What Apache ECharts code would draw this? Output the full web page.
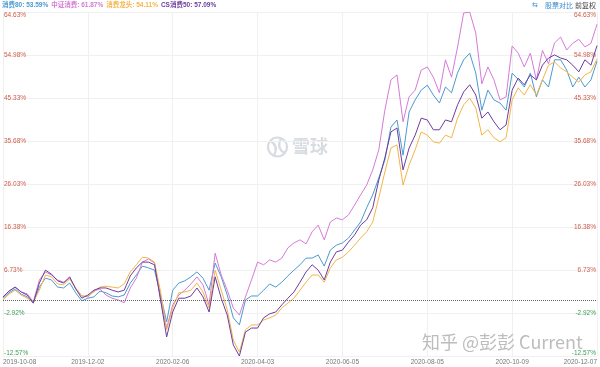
<!DOCTYPE html>
<html><head><meta charset="utf-8">
<script src="https://cdn.jsdelivr.net/npm/echarts@6/dist/echarts.min.js"></script>
<style>html,body{margin:0;padding:0;background:#fff}#c{width:600px;height:367px}</style>
</head><body><div id="c"></div>
<script>
const tickLabels = ['2019-10-08','2019-12-02','2020-02-06','2020-04-03','2020-06-05','2020-08-05','2020-10-09','2020-12-07'];
const seriesNames = ['消费80','中证消费','消费龙头','CS消费50'];
const seriesColors = ['#4a9bd1','#d57bd6','#f3b54a','#6c3d9e'];
const xf80 = [0.4, 1.6, 2.5, 1.3, 0.7, -0.7, 2.9, 4.9, 4.5, 2.9,
 2.7, 3.8, 1.6, -0.2, 0.4, 0.7, 2.0, 1.6, 0.9, 0.7,
 1.1, 3.8, 5.6, 7.6, 7.2, 6.7, 1.1, -4.9, 2.2, 3.8,
 4.3, 5.2, 6.3, 4.9, 2.2, 8.3, 5.2, 1.1, -4.0, -5.6,
 0.0, 0.9, 0.9, 2.2, 3.6, 2.9, 4.0, 5.4, 6.7, 7.9,
 9.4, 9.4, 10.1, 7.6, 11.2, 12.3, 12.8, 13.9, 15.7, 17.5,
 20.7, 23.6, 27.4, 31.4, 38.8, 40.4, 32.5, 42.2, 44.9, 47.1,
 48.2, 46.0, 44.2, 47.8, 46.5, 51.0, 53.9, 55.4, 50.9, 42.6,
 47.1, 44.9, 44.2, 42.6, 50.9, 49.5, 47.8, 50.9, 45.6, 49.4,
 47.8, 53.9, 53.9, 51.6, 47.8, 50.0, 47.8, 49.4, 53.59];
const zzxf = [0.6, 2.0, 2.9, 1.8, 1.4, -0.4, 4.5, 6.3, 5.6, 4.5,
 4.0, 4.9, 2.5, 0.9, 0.7, 2.0, 2.5, 1.1, 0.4, 0.0,
 -0.6, 2.7, 4.9, 8.5, 9.2, 8.3, 0.0, -6.3, -1.1, 1.1,
 2.2, 3.6, 5.2, 3.4, -1.1, 10.5, 5.6, 2.2, -1.8, -3.4,
 0.7, 4.5, 8.5, 7.9, 9.0, 8.5, 9.4, 11.7, 12.8, 13.5,
 12.6, 15.3, 16.8, 13.5, 17.5, 18.4, 18.0, 19.1, 21.3, 23.6,
 25.8, 29.2, 33.7, 42.6, 49.4, 50.5, 40.0, 45.6, 47.1, 51.6,
 52.3, 50.0, 46.5, 53.9, 50.0, 56.8, 64.4, 64.63, 59.9, 48.5,
 52.3, 49.4, 44.9, 45.6, 57.0, 55.4, 52.3, 55.4, 49.4, 56.0,
 53.0, 57.7, 59.0, 56.1, 57.6, 58.5, 56.8, 57.6, 61.87];
const xflt = [0.0, 1.3, 2.2, 1.1, 0.4, -0.4, 2.2, 5.6, 5.2, 3.6,
 3.4, 4.7, 2.7, 0.9, 0.9, 1.8, 2.9, 3.1, 2.9, 2.7,
 3.6, 6.3, 7.9, 9.6, 9.4, 8.5, 1.8, -6.7, -1.8, 1.6,
 1.8, 2.2, 3.8, 1.8, -1.8, 6.7, 2.2, -2.2, -9.0, -11.7,
 -6.7, -5.6, -5.6, -4.5, -4.0, -3.4, -1.8, -0.7, 0.4, 2.2,
 4.0, 5.6, 5.6, 4.0, 7.2, 9.0, 9.6, 10.8, 12.3, 13.9,
 15.3, 17.5, 22.9, 28.7, 34.1, 34.8, 25.8, 30.3, 33.7, 37.7,
 37.0, 35.5, 35.2, 37.0, 36.4, 40.8, 43.8, 45.3, 43.1, 37.0,
 38.2, 36.4, 35.5, 36.4, 44.9, 47.6, 46.0, 48.3, 46.0, 49.4,
 52.7, 53.4, 52.1, 51.2, 50.0, 48.9, 50.5, 51.2, 54.11];
const cs50 = [0.7, 2.0, 2.9, 1.8, 1.1, -0.7, 3.8, 6.7, 5.8, 4.3,
 3.8, 5.2, 2.5, 0.4, 1.1, 2.2, 2.7, 2.7, 2.2, 1.8,
 2.2, 5.4, 7.2, 8.5, 8.5, 7.9, 0.0, -8.3, -2.7, 0.4,
 0.4, 0.9, 2.7, 0.7, -2.7, 5.2, 0.4, -3.4, -10.1, -12.57,
 -7.2, -6.3, -6.3, -4.0, -3.1, -2.7, -1.1, 0.4, 1.8, 4.0,
 6.3, 7.9, 6.7, 4.5, 8.5, 10.8, 11.2, 13.0, 14.6, 16.8,
 18.0, 20.7, 26.9, 31.9, 37.7, 38.6, 29.2, 34.1, 37.0, 40.8,
 40.4, 38.2, 38.2, 40.4, 40.0, 43.8, 46.7, 48.3, 46.0, 40.8,
 42.2, 40.0, 38.2, 39.3, 47.1, 49.8, 48.3, 50.5, 49.4, 52.7,
 54.3, 55.0, 54.3, 53.9, 52.7, 51.2, 53.9, 52.7, 57.09];
const yMin = -12.57, yMax = 64.63, yStep = 9.65;
const xStep = 14;

const allSeries = [xf80, zzxf, xflt, cs50];
const FONT = "'Liberation Sans','Noto Sans CJK SC',sans-serif";
const chart = echarts.init(document.getElementById('c'), null, {renderer: 'canvas'});

const rich = {};
seriesNames.forEach((n, i) => { rich['s' + i] = {color: seriesColors[i], fontSize: 6.5, fontFamily: FONT, padding: [0, 3, 0, 0]}; });
const legendText = seriesNames.map((n, i) => '{s' + i + '|' + n + ': ' + allSeries[i][allSeries[i].length - 1].toFixed(2) + '%}').join('');

const yLabel = {
  inside: true, fontSize: 6.5, fontFamily: FONT,
  formatter: v => v.toFixed(2) + '%',
  color: v => (v < 0 ? '#3f9f55' : '#cf5c4a'),
  verticalAlignMinLabel: 'bottom', verticalAlignMaxLabel: 'top'
};

const WM = '#d8dce1';
chart.setOption({
  animation: false,
  backgroundColor: '#fff',
  title: {text: legendText, left: 2, top: 2, padding: 0, textStyle: {rich: rich, fontSize: 6.5}},
  grid: {left: 2, right: 3, top: 12, bottom: 11, containLabel: false},
  xAxis: {
    type: 'value', min: 0, max: (tickLabels.length - 1) * xStep, interval: xStep,
    axisLine: {show: false}, axisTick: {show: false},
    splitLine: {show: true, lineStyle: {color: '#f0f0f0', width: 1}},
    axisLabel: {
      fontSize: 6.5, fontFamily: FONT, color: '#777', margin: 3,
      alignMinLabel: 'left', alignMaxLabel: 'right', showMinLabel: true, showMaxLabel: true,
      formatter: v => tickLabels[Math.round(v / xStep)] || ''
    }
  },
  yAxis: [
    {type: 'value', position: 'left', min: yMin, max: yMax, interval: yStep,
     axisLine: {show: false}, axisTick: {show: false},
     splitLine: {show: true, lineStyle: {color: '#f0f0f0', width: 1}},
     axisLabel: Object.assign({margin: 1}, yLabel)},
    {type: 'value', position: 'right', min: yMin, max: yMax, interval: yStep,
     axisLine: {show: false}, axisTick: {show: false}, splitLine: {show: false},
     axisLabel: Object.assign({margin: 1}, yLabel)}
  ],
  graphic: [
    {type: 'circle', shape: {cx: 277.5, cy: 147, r: 9.5}, style: {fill: 'none', stroke: WM, lineWidth: 2.2}, silent: true, z: 0},
    {type: 'bezierCurve', shape: {x1: 270.5, y1: 141, cpx1: 279, cpy1: 146, x2: 274, y2: 155.5}, style: {fill: 'none', stroke: WM, lineWidth: 2.2}, silent: true, z: 0},
    {type: 'bezierCurve', shape: {x1: 284.5, y1: 153, cpx1: 276, cpy1: 148, x2: 281, y2: 138.5}, style: {fill: 'none', stroke: WM, lineWidth: 2.2}, silent: true, z: 0},
    {type: 'text', left: 292, top: 137, style: {text: '雪球', fill: WM, font: "bold 18px 'Noto Sans CJK SC'"}, silent: true, z: 0},
    {type: 'text', left: 422, top: 333, style: {text: '知乎 @彭彭 Current', fill: '#bdbdbd', font: "18px 'Noto Sans CJK SC'"}, silent: true, z: 100},
    {type: 'text', left: 532, top: 2, style: {text: '⇆', fill: '#4a90d0', font: "7px 'DejaVu Sans'"}, silent: true},
    {type: 'text', left: 545, top: 2, style: {text: '股票对比', fill: '#3d8bd0', font: "7px 'Noto Sans CJK SC'"}, silent: true},
    {type: 'text', left: 575, top: 2, style: {text: '前复权', fill: '#444', font: "7px 'Noto Sans CJK SC'"}, silent: true}
  ],
  series: allSeries.map((arr, i) => ({
    name: seriesNames[i], type: 'line', symbol: 'none', smooth: false,
    data: arr.map((v, j) => [j, v]),
    lineStyle: {color: seriesColors[i], width: 1},
    itemStyle: {color: seriesColors[i]},
    z: 2 + i,
    markLine: i === 0 ? {silent: true, symbol: ['none', 'none'], label: {show: false},
      lineStyle: {type: 'dotted', color: '#666', width: 1}, data: [{yAxis: 0}]} : undefined
  }))
});
</script></body></html>
